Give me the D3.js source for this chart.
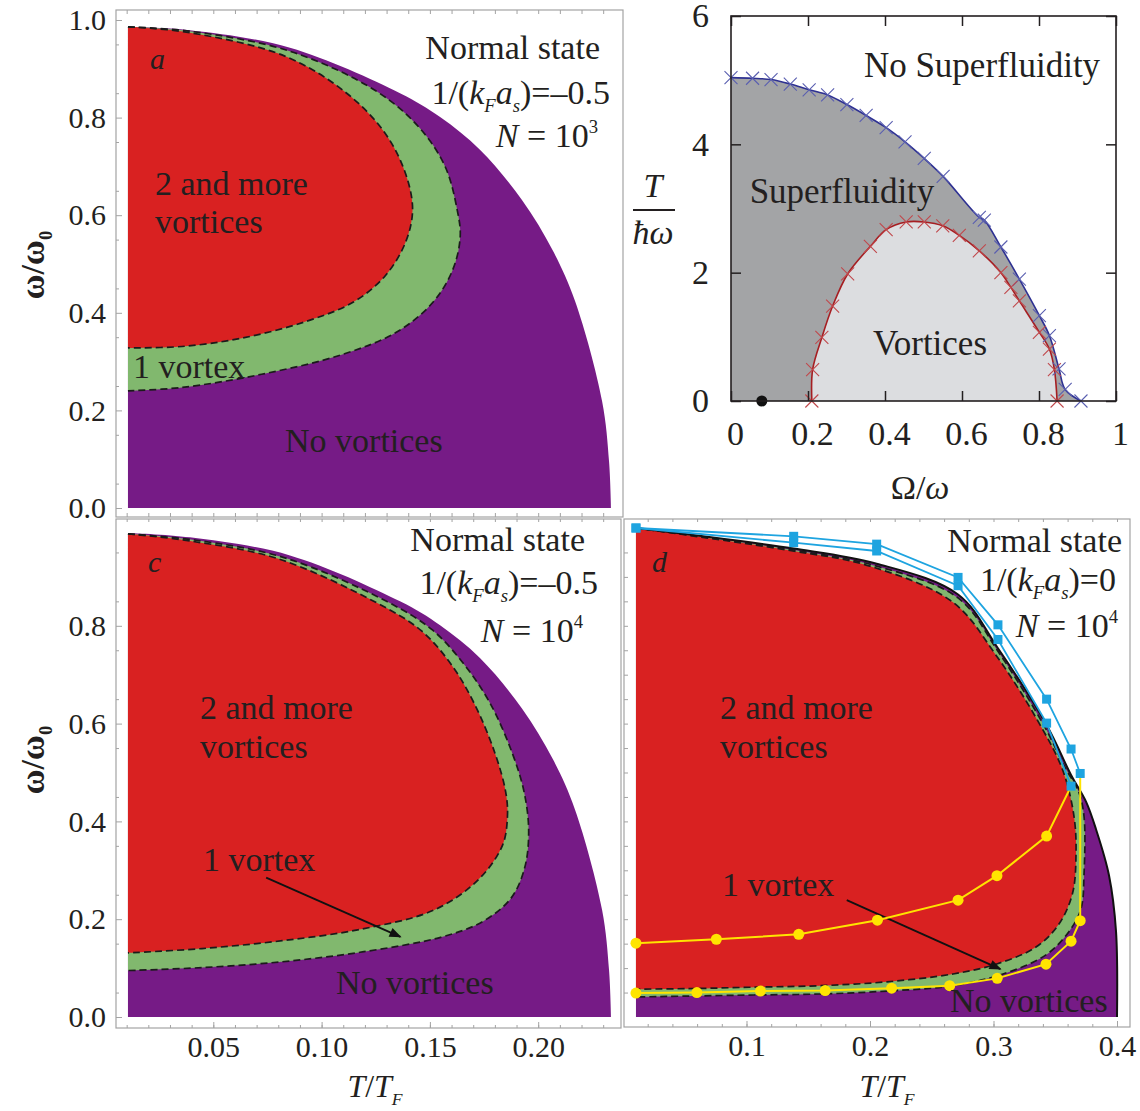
<!DOCTYPE html>
<html>
<head>
<meta charset="utf-8">
<script src="https://cdn.jsdelivr.net/npm/d3@7"></script>
<style>
  body { margin: 0; background: #fff; }
</style>
</head>
<body>
<div id="chart"></div>
<script>
// ---------- data ----------
// panels a, c, d: pairs are [T/TF, omega/omega0]

// a: N = 10^3, 1/(kF as) = -0.5
const aOuter = [[0.0106,0.986],[0.0392,0.979],[0.0854,0.943],[0.1362,0.850],[0.1547,0.801],[0.1731,0.734],
  [0.1925,0.631],[0.2068,0.527],[0.2170,0.424],[0.2295,0.219],[0.2327,0.096],[0.2336,0]];
const aGreen = [[0.0106,0.986],[0.0392,0.977],[0.0854,0.936],[0.1250,0.855],[0.1450,0.780],[0.1570,0.700],
  [0.1626,0.611],[0.1640,0.557],[0.1607,0.490],[0.1515,0.422],[0.1349,0.361],[0.1092,0.314],
  [0.0723,0.274],[0.0355,0.247],[0.0106,0.240]];
const aRed = [[0.0106,0.986],[0.0392,0.974],[0.0830,0.926],[0.1110,0.852],[0.1290,0.770],[0.1387,0.686],
  [0.1420,0.611],[0.1387,0.544],[0.1294,0.476],[0.1147,0.422],[0.0926,0.382],[0.0631,0.348],
  [0.0355,0.331],[0.0106,0.328]];

// c: N = 10^4, 1/(kF as) = -0.5 (same normal-state edge as a)
const cOuter = [[0.0106,0.990],[0.0392,0.981],[0.0854,0.944],[0.1362,0.850],[0.1547,0.801],[0.1731,0.734],
  [0.1925,0.631],[0.2068,0.527],[0.2170,0.424],[0.2295,0.219],[0.2327,0.096],[0.2336,0]];
const cGreen = [[0.0106,0.988],[0.0420,0.975],[0.0830,0.939],[0.1300,0.850],[0.1510,0.792],[0.1660,0.720],
  [0.1780,0.640],[0.1880,0.540],[0.1935,0.460],[0.1956,0.380],[0.1937,0.304],[0.1873,0.242],
  [0.1743,0.195],[0.1558,0.164],[0.1188,0.133],[0.0818,0.113],[0.0448,0.101],[0.0106,0.095]];
const cRed = [[0.0106,0.988],[0.0400,0.973],[0.0800,0.937],[0.1250,0.848],[0.1460,0.790],[0.1600,0.720],
  [0.1706,0.640],[0.1800,0.540],[0.1850,0.460],[0.1858,0.410],[0.1835,0.351],[0.1724,0.281],
  [0.1520,0.219],[0.1188,0.180],[0.0818,0.156],[0.0448,0.140],[0.0106,0.131]];
const cArrow = [[0.0744,0.285],[0.1364,0.164]];

// d: N = 10^4, 1/(kF as) = 0
const dOuter = [[0.0105,1.0],[0.1382,0.958],[0.2054,0.927],[0.2713,0.864],[0.3036,0.754],[0.3430,0.597],
  [0.3628,0.495],[0.3750,0.440],[0.3830,0.384],[0.3935,0.290],[0.3992,0.175],[0.4000,0]];
const dGreen = [[0.0105,1.0],[0.1382,0.955],[0.2054,0.922],[0.2713,0.857],[0.3036,0.748],[0.3400,0.600],
  [0.3580,0.510],[0.3690,0.460],[0.3733,0.410],[0.3733,0.292],[0.3709,0.222],[0.3612,0.175],
  [0.3425,0.127],[0.3077,0.088],[0.2672,0.064],[0.2138,0.053],[0.1595,0.047],[0.1060,0.045],[0.0105,0.041]];
const dRed = [[0.0105,1.0],[0.1328,0.955],[0.2000,0.922],[0.2672,0.848],[0.3020,0.740],[0.3360,0.605],
  [0.3560,0.505],[0.3652,0.410],[0.3668,0.332],[0.3640,0.253],[0.3530,0.190],[0.3344,0.143],
  [0.3020,0.108],[0.2672,0.088],[0.2138,0.072],[0.1595,0.064],[0.1060,0.061],[0.0522,0.058],[0.0105,0.057]];
const dArrow = [[0.1812,0.239],[0.3056,0.098]];
const dBlueUpper = [[0.0105,1.0],[0.1382,0.983],[0.2054,0.967],[0.2713,0.899],[0.3036,0.802],[0.3430,0.650],
  [0.3628,0.548],[0.3702,0.498]];
const dBlueLower = [[0.0105,1.0],[0.1382,0.970],[0.2054,0.953],[0.2713,0.882],[0.3036,0.772],[0.3430,0.601],
  [0.3628,0.472]];
const dYellowUpper = [[0.0105,0.151],[0.0756,0.159],[0.1423,0.169],[0.2060,0.198],[0.2713,0.239],
  [0.3028,0.289],[0.3430,0.370]];
const dYellowLower = [[0.0105,0.049],[0.0598,0.050],[0.1113,0.053],[0.1637,0.054],[0.2175,0.059],
  [0.2645,0.064],[0.3030,0.079],[0.3425,0.108],[0.3628,0.155],[0.3702,0.197]];

// b: pairs are [Omega/omega, T/(hbar omega)]
const bUpper = [[0,5.04],[0.056,5.03],[0.104,5.01],[0.154,4.94],[0.203,4.85],[0.251,4.77],[0.301,4.62],
  [0.351,4.45],[0.403,4.26],[0.452,4.04],[0.502,3.78],[0.551,3.50],[0.645,2.86],[0.658,2.82],
  [0.701,2.40],[0.749,1.90],[0.801,1.33],[0.827,1.02],[0.852,0.50],[0.868,0.18],[0.909,0]];
const bLower = [[0.210,0],[0.212,0.49],[0.236,0.99],[0.264,1.48],[0.303,1.98],[0.362,2.41],[0.403,2.67],
  [0.455,2.79],[0.502,2.79],[0.550,2.73],[0.593,2.58],[0.645,2.34],[0.701,2.00],[0.727,1.77],
  [0.749,1.56],[0.801,1.07],[0.827,0.81],[0.840,0.49],[0.847,0]];
const bDot = [[0.08,0]];

// tick labels
const acXTicks = [0.05, 0.10, 0.15, 0.20];
const aYTicks = [0, 0.2, 0.4, 0.6, 0.8, 1.0];
const cYTicks = [0, 0.2, 0.4, 0.6, 0.8];
const dXTicks = [0.1, 0.2, 0.3, 0.4];
const bXTicks = [0, 0.2, 0.4, 0.6, 0.8, 1];
const bYTicks = [0, 2, 4, 6];

// ---------- drawing ----------
const SERIF = "Liberation Serif, Times New Roman, serif";
const INK = "#231f20";
const PURPLE = "#761b86", RED = "#d92121", GREEN = "#81b86e";

const svg = d3.select("#chart").append("svg")
  .attr("width", 1140).attr("height", 1111)
  .style("font-family", SERIF);
svg.append("rect").attr("width", 1140).attr("height", 1111).attr("fill", "#fff");

svg.append("defs").append("marker")
  .attr("id", "ah").attr("viewBox", "0 0 10 10")
  .attr("refX", 9).attr("refY", 5)
  .attr("markerWidth", 14).attr("markerHeight", 12)
  .attr("markerUnits", "userSpaceOnUse").attr("orient", "auto")
  .append("path").attr("d", "M0,1L10,5L0,9Z").attr("fill", "#111");

// scales
const xAC = d3.scaleLinear().domain([0, 0.2]).range([105, 538.2]);
const yA = d3.scaleLinear().domain([0, 1]).range([508, 20]);
const yCD = d3.scaleLinear().domain([0, 1]).range([1017, 528]);
const xD = d3.scaleLinear().domain([0, 0.4]).range([623, 1117]);
const xB = d3.scaleLinear().domain([0, 1]).range([731, 1116]);
const yB = d3.scaleLinear().domain([0, 6]).range([401, 16]);

function rich(parent, x, y, parts, size, anchor) {
  const t = parent.append("text")
    .attr("x", x).attr("y", y)
    .attr("font-size", size)
    .attr("text-anchor", anchor || "start")
    .attr("fill", INK);
  let shift = 0;
  parts.forEach(p => {
    const s = t.append("tspan").text(p.t);
    if (p.i) s.attr("font-style", "italic");
    let target = 0;
    if (p.sub) { target = size * 0.24; s.attr("font-size", size * 0.55); }
    if (p.sup) { target = -size * 0.42; s.attr("font-size", size * 0.55); }
    if (target !== shift) { s.attr("dy", target - shift); shift = target; }
  });
  return t;
}

function regionPanel(x, y, outer, green, red, outerLine) {
  const g = svg.append("g");
  const line = d3.line().x(d => x(d[0])).y(d => y(d[1])).curve(d3.curveCatmullRom.alpha(0.5));
  const t0 = outer[0][0];
  g.append("path").attr("d", line(outer) + `L${x(t0)},${y(0)}Z`).attr("fill", PURPLE);
  g.append("path").attr("d", line(green) + "Z").attr("fill", GREEN);
  g.append("path").attr("d", line(red) + "Z").attr("fill", RED);
  [green, red].forEach(b => g.append("path")
    .attr("d", line(b)).attr("fill", "none")
    .attr("stroke", "#1b1b1b").attr("stroke-width", 1.7)
    .attr("stroke-dasharray", "7,4"));
  if (outerLine) {
    g.append("path").attr("d", line(outer)).attr("fill", "none")
      .attr("stroke", "#111").attr("stroke-width", 2);
  }
  return g;
}

function frame(x0, y0, x1, y1, color, w) {
  svg.append("rect").attr("x", x0).attr("y", y0)
    .attr("width", x1 - x0).attr("height", y1 - y0)
    .attr("fill", "none").attr("stroke", color).attr("stroke-width", w);
}

function axisG(axis, tx, ty, color, fontSize, lineW) {
  const g = svg.append("g").attr("transform", `translate(${tx},${ty})`).call(axis);
  g.select(".domain").remove();
  g.selectAll(".tick line").attr("stroke", color).attr("stroke-width", lineW || 1);
  g.selectAll(".tick text")
    .attr("fill", INK)
    .style("font-family", SERIF)
    .style("font-size", (fontSize || 30) + "px");
  return g;
}

const GRAY = "#a3a3a3";
// panel a
regionPanel(xAC, yA, aOuter, aGreen, aRed, false);
frame(116, 10, 623, 517, GRAY, 1.2);
axisG(d3.axisLeft(yA).tickValues(aYTicks).tickSize(-6).tickPadding(10).tickFormat(d3.format(".1f")), 116, 0, GRAY);
axisG(d3.axisLeft(yA).tickValues(d3.range(0.05, 1.0, 0.1)).tickSize(-3).tickFormat(""), 116, 0, GRAY);
axisG(d3.axisBottom(xAC).tickValues(d3.range(0.01, 0.235, 0.01)).tickSize(-4).tickFormat(""), 0, 517, GRAY);
axisG(d3.axisTop(xAC).tickValues(d3.range(0.01, 0.235, 0.01)).tickSize(-4).tickFormat(""), 0, 10, GRAY);

// panel c
regionPanel(xAC, yCD, cOuter, cGreen, cRed, false);
frame(116, 519, 621, 1028, GRAY, 1.2);
axisG(d3.axisLeft(yCD).tickValues(cYTicks).tickSize(-6).tickPadding(10).tickFormat(d3.format(".1f")), 116, 0, GRAY);
axisG(d3.axisLeft(yCD).tickValues(d3.range(0.05, 1.0, 0.1)).tickSize(-3).tickFormat(""), 116, 0, GRAY);
axisG(d3.axisBottom(xAC).tickValues(acXTicks).tickSize(-6).tickPadding(8).tickFormat(d3.format(".2f")), 0, 1028, GRAY);
axisG(d3.axisBottom(xAC).tickValues(d3.range(0.01, 0.235, 0.01)).tickSize(-3).tickFormat(""), 0, 1028, GRAY);
axisG(d3.axisTop(xAC).tickValues(d3.range(0.01, 0.235, 0.01)).tickSize(-3).tickFormat(""), 0, 519, GRAY);
svg.append("line")
  .attr("x1", xAC(cArrow[0][0])).attr("y1", yCD(cArrow[0][1]))
  .attr("x2", xAC(cArrow[1][0])).attr("y2", yCD(cArrow[1][1]))
  .attr("stroke", "#111").attr("stroke-width", 1.8).attr("marker-end", "url(#ah)");

// panel d
regionPanel(xD, yCD, dOuter, dGreen, dRed, true);
frame(624, 519, 1130, 1027, GRAY, 1.2);
axisG(d3.axisRight(yCD).tickValues(d3.range(0.05, 1.0, 0.05)).tickSize(4).tickFormat(""), 624, 0, GRAY);
axisG(d3.axisBottom(xD).tickValues(dXTicks).tickSize(-6).tickPadding(8).tickFormat(d3.format(".1f")), 0, 1027, GRAY);
axisG(d3.axisBottom(xD).tickValues(d3.range(0.02, 0.42, 0.02)).tickSize(-3).tickFormat(""), 0, 1027, GRAY);
axisG(d3.axisTop(xD).tickValues(d3.range(0.02, 0.42, 0.02)).tickSize(-3).tickFormat(""), 0, 519, GRAY);
svg.append("line")
  .attr("x1", xD(dArrow[0][0])).attr("y1", yCD(dArrow[0][1]))
  .attr("x2", xD(dArrow[1][0])).attr("y2", yCD(dArrow[1][1]))
  .attr("stroke", "#111").attr("stroke-width", 1.8).attr("marker-end", "url(#ah)");

const lineD = d3.line().x(d => xD(d[0])).y(d => yCD(d[1]));
const BLUE = "#1ea4e0", YELLOW = "#ffe400";
[dBlueUpper, dBlueLower].forEach(s => svg.append("path").attr("d", lineD(s))
  .attr("fill", "none").attr("stroke", BLUE).attr("stroke-width", 1.8));
svg.append("path").attr("d", lineD(dYellowUpper.concat([dBlueLower[dBlueLower.length - 1]])))
  .attr("fill", "none").attr("stroke", YELLOW).attr("stroke-width", 2);
svg.append("path").attr("d", lineD(dYellowLower.concat([dBlueUpper[dBlueUpper.length - 1]])))
  .attr("fill", "none").attr("stroke", YELLOW).attr("stroke-width", 2);
svg.selectAll("circle.yl").data(dYellowUpper.concat(dYellowLower)).join("circle")
  .attr("class", "yl").attr("cx", d => xD(d[0])).attr("cy", d => yCD(d[1]))
  .attr("r", 5.5).attr("fill", YELLOW);
svg.selectAll("rect.bq").data(dBlueUpper.concat(dBlueLower)).join("rect")
  .attr("class", "bq").attr("x", d => xD(d[0]) - 4.5).attr("y", d => yCD(d[1]) - 4.5)
  .attr("width", 9).attr("height", 9).attr("fill", BLUE);

// panel b
const lineB = d3.line().x(d => xB(d[0])).y(d => yB(d[1])).curve(d3.curveCatmullRom.alpha(0.5));
svg.append("path").attr("d", lineB(bUpper) + `L${xB(0)},${yB(0)}Z`).attr("fill", "#a3a4a6");
svg.append("path").attr("d", lineB(bLower) + "Z").attr("fill", "#dcdde0");
svg.append("path").attr("d", lineB(bUpper)).attr("fill", "none").attr("stroke", "#2e3192").attr("stroke-width", 1.6);
svg.append("path").attr("d", lineB(bLower)).attr("fill", "none").attr("stroke", "#a61e22").attr("stroke-width", 1.6);
const cross = "M-6.5,-6.5L6.5,6.5M-6.5,6.5L6.5,-6.5";
svg.selectAll("path.cu").data(bUpper).join("path").attr("class", "cu")
  .attr("d", cross).attr("transform", d => `translate(${xB(d[0])},${yB(d[1])})`)
  .attr("stroke", "#5a5fb0").attr("stroke-width", 1.1).attr("fill", "none");
svg.selectAll("path.cl").data(bLower).join("path").attr("class", "cl")
  .attr("d", cross).attr("transform", d => `translate(${xB(d[0])},${yB(d[1])})`)
  .attr("stroke", "#c0484c").attr("stroke-width", 1.1).attr("fill", "none");
svg.selectAll("circle.bd").data(bDot).join("circle").attr("class", "bd")
  .attr("cx", d => xB(d[0])).attr("cy", d => yB(d[1])).attr("r", 5.5).attr("fill", "#111");
frame(731, 16, 1116, 401, INK, 1.6);
const bx = axisG(d3.axisBottom(xB).tickValues(bXTicks).tickSize(-10).tickPadding(20).tickFormat(d3.format("")), 0, 401, INK, 34, 1.5);
bx.selectAll(".tick text").attr("dx", 4);
axisG(d3.axisTop(xB).tickValues(bXTicks).tickSize(-10).tickFormat(""), 0, 16, INK, 34, 1.5);
axisG(d3.axisLeft(yB).tickValues(bYTicks).tickSize(-10).tickPadding(22).tickFormat(d3.format("d")), 731, 0, INK, 34, 1.5);
axisG(d3.axisRight(yB).tickValues(bYTicks).tickSize(-10).tickFormat(""), 1116, 0, INK, 34, 1.5);

// ---------- texts ----------
const RS = 34;   // region label size
// panel a
rich(svg, 150, 69, [{ t: "a", i: true }], 30);
rich(svg, 600, 59, [{ t: "Normal state" }], RS, "end");
rich(svg, 610, 104, [{ t: "1/(" }, { t: "k", i: true }, { t: "F", i: true, sub: true }, { t: "a", i: true }, { t: "s", i: true, sub: true }, { t: ")=\u20130.5" }], RS, "end");
rich(svg, 598, 147, [{ t: "N", i: true }, { t: " = 10" }, { t: "3", sup: true }], RS, "end");
rich(svg, 155, 195, [{ t: "2 and more" }], RS);
rich(svg, 155, 233, [{ t: "vortices" }], RS);
rich(svg, 133, 378, [{ t: "1 vortex" }], RS);
rich(svg, 285, 452, [{ t: "No vortices" }], RS);
// panel c
rich(svg, 148, 572, [{ t: "c", i: true }], 30);
rich(svg, 585, 551, [{ t: "Normal state" }], RS, "end");
rich(svg, 598, 594, [{ t: "1/(" }, { t: "k", i: true }, { t: "F", i: true, sub: true }, { t: "a", i: true }, { t: "s", i: true, sub: true }, { t: ")=\u20130.5" }], RS, "end");
rich(svg, 583, 642, [{ t: "N", i: true }, { t: " = 10" }, { t: "4", sup: true }], RS, "end");
rich(svg, 200, 719, [{ t: "2 and more" }], RS);
rich(svg, 200, 758, [{ t: "vortices" }], RS);
rich(svg, 203, 871, [{ t: "1 vortex" }], RS);
rich(svg, 336, 994, [{ t: "No vortices" }], RS);
// panel d
rich(svg, 652, 572, [{ t: "d", i: true }], 30);
rich(svg, 1122, 552, [{ t: "Normal state" }], RS, "end");
rich(svg, 1116, 591, [{ t: "1/(" }, { t: "k", i: true }, { t: "F", i: true, sub: true }, { t: "a", i: true }, { t: "s", i: true, sub: true }, { t: ")=0" }], RS, "end");
rich(svg, 1118, 637, [{ t: "N", i: true }, { t: " = 10" }, { t: "4", sup: true }], RS, "end");
rich(svg, 720, 719, [{ t: "2 and more" }], RS);
rich(svg, 720, 758, [{ t: "vortices" }], RS);
rich(svg, 722, 896, [{ t: "1 vortex" }], RS);
rich(svg, 950, 1012, [{ t: "No vortices" }], RS);
// panel b
rich(svg, 982, 77, [{ t: "No Superfluidity" }], 35, "middle");
rich(svg, 842, 203, [{ t: "Superfluidity" }], 35, "middle");
rich(svg, 930, 355, [{ t: "Vortices" }], 35, "middle");
rich(svg, 653, 197, [{ t: "T", i: true }], 34, "middle");
svg.append("line").attr("x1", 633).attr("x2", 675).attr("y1", 210).attr("y2", 210)
  .attr("stroke", INK).attr("stroke-width", 2);
rich(svg, 653, 244, [{ t: "\u0127\u03c9", i: true }], 34, "middle");
rich(svg, 920, 499, [{ t: "\u03a9/" }, { t: "\u03c9", i: true }], 34, "middle");

// axis titles
[265, 760].forEach(cy => {
  const g = svg.append("g").attr("transform", `translate(44,${cy}) rotate(-90)`);
  rich(g, 0, 0, [{ t: "\u03c9/\u03c9" }, { t: "0", sub: true }], 34, "middle").attr("font-weight", "bold");
});
rich(svg, 375, 1097, [{ t: "T", i: true }, { t: "/" }, { t: "T", i: true }, { t: "F", i: true, sub: true }], 32, "middle");
rich(svg, 887, 1097, [{ t: "T", i: true }, { t: "/" }, { t: "T", i: true }, { t: "F", i: true, sub: true }], 32, "middle");
</script>
</body>
</html>
